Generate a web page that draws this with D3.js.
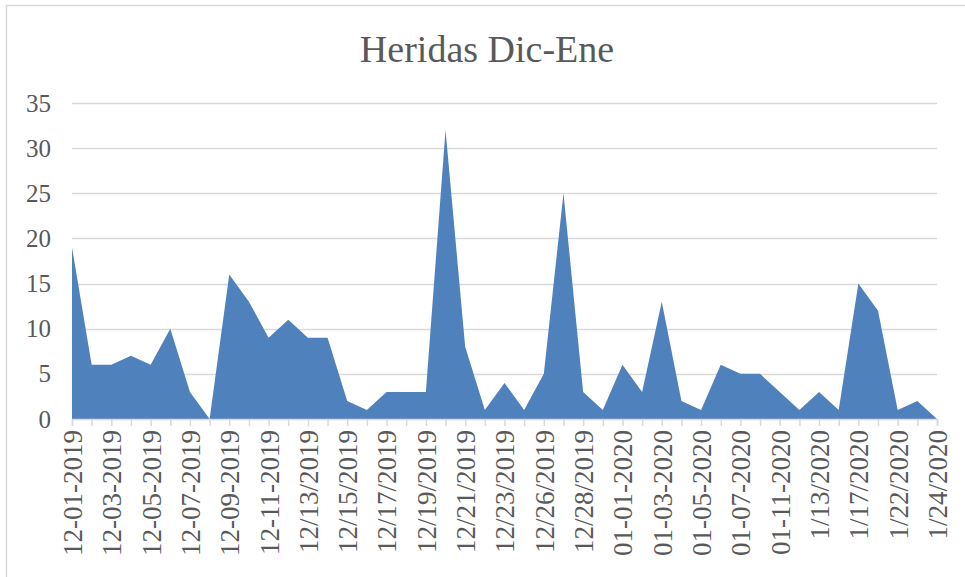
<!DOCTYPE html>
<html>
<head>
<meta charset="utf-8">
<script src="https://cdn.jsdelivr.net/npm/d3@7"></script>
<style>
  html, body { margin: 0; padding: 0; background: #fff; }
  svg { display: block; }
</style>
</head>
<body>
<svg id="chart" width="965" height="577"></svg>
<script>
const title = "Heridas Dic-Ene";
const categories = [
  "12-01-2019","12-02-2019","12-03-2019","12-04-2019","12-05-2019","12-06-2019",
  "12-07-2019","12-08-2019","12-09-2019","12-10-2019","12-11-2019","12/12/2019",
  "12/13/2019","12/14/2019","12/15/2019","12/16/2019","12/17/2019","12/18/2019",
  "12/19/2019","12/20/2019","12/21/2019","12/22/2019","12/23/2019","12/24/2019",
  "12/26/2019","12/27/2019","12/28/2019","12/30/2019","01-01-2020","01-02-2020",
  "01-03-2020","01-04-2020","01-05-2020","01-06-2020","01-07-2020","01-09-2020",
  "01-11-2020","01-12-2020","1/13/2020","1/15/2020","1/17/2020","1/20/2020",
  "1/22/2020","1/23/2020","1/24/2020"
];
const values = [
  19, 6, 6, 7, 6, 10, 3, 0, 16, 13, 9, 11, 9, 9, 2, 1, 3, 3, 3, 32,
  8, 1, 4, 1, 5, 25, 3, 1, 6, 3, 13, 2, 1, 6, 5, 5, 3, 1, 3, 1,
  15, 12, 1, 2, 0
];
const yTicks = [0, 5, 10, 15, 20, 25, 30, 35];
const shownLabels = categories.filter((d, i) => i % 2 === 0);

const svg = d3.select("#chart");
const W = 965, H = 577;
const m = { left: 72, right: 965 - 937, top: 103, bottom: 577 - 419 };
const textColor = "#595959";
const gridColor = "#d9d9d9";
const fontTick = "'Liberation Serif', serif";

// chart border
svg.append("rect")
  .attr("x", 6.5).attr("y", 5.5)
  .attr("width", W - 5).attr("height", H)
  .attr("fill", "#fff").attr("stroke", gridColor).attr("stroke-width", 1.5);

// title
svg.append("text")
  .attr("x", 487).attr("y", 62)
  .attr("text-anchor", "middle")
  .attr("font-family", fontTick)
  .attr("font-size", 38)
  .attr("fill", textColor)
  .text(title);

const x = d3.scalePoint().domain(categories).range([m.left, W - m.right]);
const y = d3.scaleLinear().domain([0, 35]).range([H - m.bottom, m.top]);

// gridlines
svg.append("g").selectAll("line").data(yTicks.filter(d => d > 0)).join("line")
  .attr("x1", m.left).attr("x2", W - m.right)
  .attr("y1", d => Math.round(y(d)) + 0.5).attr("y2", d => Math.round(y(d)) + 0.5)
  .attr("stroke", gridColor).attr("stroke-width", 1.5);

// area
const area = d3.area()
  .x(d => x(d.c))
  .y0(y(0))
  .y1(d => y(d.v));
const data = categories.map((c, i) => ({ c, v: values[i] }));
svg.append("path").datum(data)
  .attr("d", area)
  .attr("fill", "#4f81bd");

// y axis labels
const yAxis = d3.axisLeft(y).tickValues(yTicks).tickSize(0).tickPadding(21);
const gy = svg.append("g").attr("transform", `translate(${m.left},0)`).call(yAxis);
gy.select(".domain").remove();
gy.selectAll("text")
  .attr("font-family", fontTick).attr("font-size", 25).attr("fill", textColor);

// x axis
const xAxis = d3.axisBottom(x).tickSize(7).tickFormat(d => shownLabels.includes(d) ? d : "");
const gx = svg.append("g").attr("transform", `translate(0,${y(0)})`).call(xAxis);
gx.select(".domain").attr("stroke", gridColor).attr("stroke-width", 1.5);
gx.selectAll(".tick line").attr("stroke", gridColor).attr("stroke-width", 1.5);
gx.selectAll(".tick text")
  .attr("font-family", fontTick).attr("font-size", 27).attr("fill", textColor)
  .attr("text-anchor", "end")
  .attr("transform", "rotate(-90)")
  .attr("x", -11).attr("y", 0).attr("dy", "0.35em");
</script>
</body>
</html>
